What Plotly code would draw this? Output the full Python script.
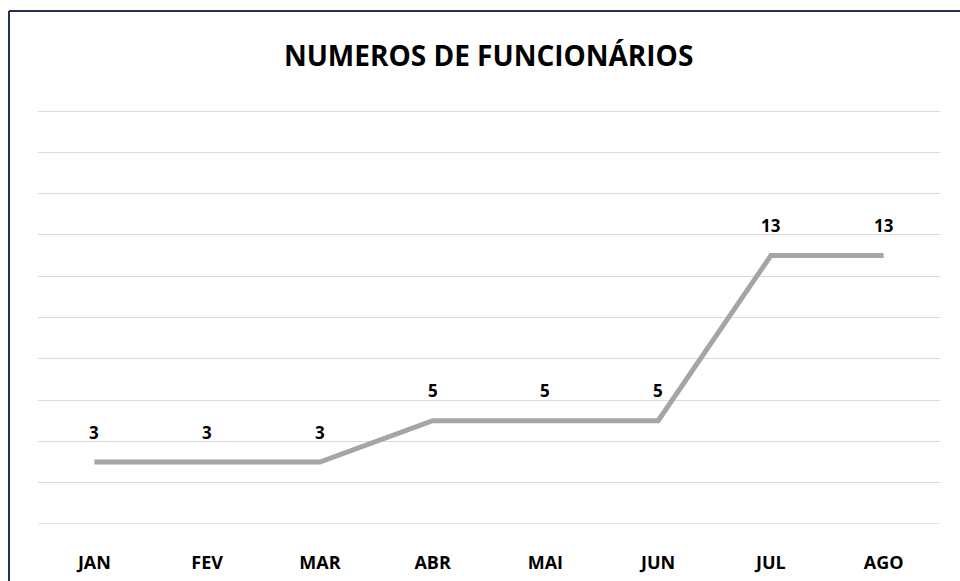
import plotly.graph_objects as go

months = ["JAN", "FEV", "MAR", "ABR", "MAI", "JUN", "JUL", "AGO"]
funcionarios = [3, 3, 3, 5, 5, 5, 13, 13]
title_text = "NUMEROS DE FUNCIONÁRIOS"

W, H = 960, 581
ml, mr, mt, mb = 38, 20, 110, 57

fig = go.Figure()
fig.add_trace(go.Scatter(
    x=months, y=funcionarios, mode="lines",
    line=dict(color="#A5A5A5", width=5),
    hoverinfo="skip", showlegend=False,
))

for m, v in zip(months, funcionarios):
    fig.add_annotation(x=m, y=v, text=f"<b>{v}</b>", showarrow=False,
                       yshift=30, font=dict(family="Open Sans", size=17, color="#000000"))

pw = W - ml - mr
ph = H - mt - mb
def px2paper_x(px):
    return (px - ml) / pw
def py2paper_y(py):
    return (H - mb - py) / ph

border = "#243250"
fig.add_shape(type="line", xref="paper", yref="paper",
              x0=px2paper_x(9), x1=px2paper_x(962), y0=py2paper_y(11), y1=py2paper_y(11),
              line=dict(color=border, width=2))
fig.add_shape(type="line", xref="paper", yref="paper",
              x0=px2paper_x(9), x1=px2paper_x(9), y0=py2paper_y(11), y1=py2paper_y(585),
              line=dict(color=border, width=2))

fig.update_layout(
    width=W, height=H,
    margin=dict(l=ml, r=mr, t=mt, b=mb, autoexpand=False),
    paper_bgcolor="white", plot_bgcolor="white",
    title=dict(text="<b>" + title_text + "</b>", x=0.509, xanchor="center",
               y=1 - 56 / H, yanchor="middle",
               font=dict(family="Open Sans", size=28, color="#000000")),
    xaxis=dict(type="category", range=[-0.5, 7.5], showgrid=False, showline=False,
               zeroline=False, ticks="", ticklabelstandoff=26, automargin=False,
               tickfont=dict(family="Open Sans", size=18, color="#000000", weight="bold")),
    yaxis=dict(range=[0, 20.05], dtick=2, showgrid=True, gridcolor="#D9D9D9", gridwidth=1.3,
               showticklabels=False, zeroline=False, showline=False, ticks="",
               automargin=False),
)
fig.add_hline(y=0, line=dict(color="#D9D9D9", width=1.3), layer="below")

fig.write_html("out.html", config={"displayModeBar": False},
               post_script="document.body.style.margin='0';document.body.style.overflow='hidden';")
